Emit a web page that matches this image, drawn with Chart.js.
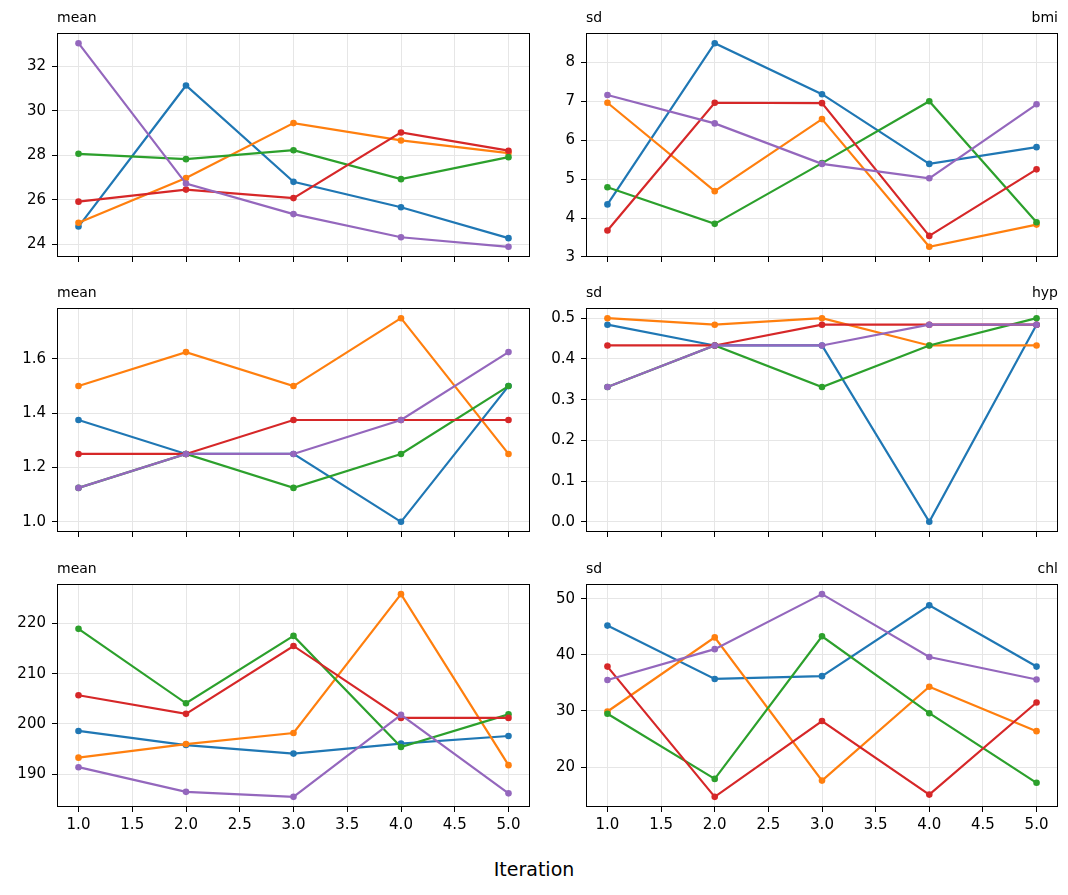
<!DOCTYPE html>
<html>
<head>
<meta charset="utf-8">
<script src="https://cdn.jsdelivr.net/npm/chart.js@4.4.1/dist/chart.umd.min.js"></script>
<style>
body { margin: 0; background: #fff; width: 1068px; height: 895px; position: relative; overflow: hidden; font-family: "DejaVu Sans", sans-serif; }
.panel { position: absolute; }
#xlabel { position: absolute; left: 0; width: 1068px; top: 858px; text-align: center; font-size: 19px; color: #000; }
</style>
</head>
<body>
<div id="xlabel">Iteration</div>

<script>
// x axis: iteration number
var iterations = [1, 2, 3, 4, 5];
var xTicks = [1, 1.5, 2, 2.5, 3, 3.5, 4, 4.5, 5];
var colors = ["#1f77b4", "#ff7f0e", "#2ca02c", "#d62728", "#9467bd"];

// one list per chain (blue, orange, green, red, purple)
var bmiMean = [
  [24.79, 31.13, 26.80, 25.66, 24.27],
  [24.96, 26.97, 29.44, 28.66, 28.09],
  [28.06, 27.82, 28.22, 26.92, 27.91],
  [25.91, 26.45, 26.07, 29.02, 28.20],
  [33.03, 26.72, 25.35, 24.31, 23.88]
];
var bmiSd = [
  [4.35, 8.49, 7.18, 5.39, 5.82],
  [6.96, 4.69, 6.54, 3.26, 3.83],
  [4.79, 3.85, 5.41, 7.00, 3.89],
  [3.68, 6.96, 6.95, 3.54, 5.25],
  [7.16, 6.43, 5.39, 5.02, 6.92]
];
var hypMean = [
  [1.375, 1.25, 1.25, 1.0, 1.5],
  [1.5, 1.625, 1.5, 1.75, 1.25],
  [1.125, 1.25, 1.125, 1.25, 1.5],
  [1.25, 1.25, 1.375, 1.375, 1.375],
  [1.125, 1.25, 1.25, 1.375, 1.625]
];
var hypSd = [
  [0.484, 0.433, 0.433, 0.0, 0.484],
  [0.5, 0.484, 0.5, 0.433, 0.433],
  [0.331, 0.433, 0.331, 0.433, 0.5],
  [0.433, 0.433, 0.484, 0.484, 0.484],
  [0.331, 0.433, 0.433, 0.484, 0.484]
];
var chlMean = [
  [198.6, 195.8, 194.1, 196.1, 197.6],
  [193.3, 196.0, 198.2, 225.8, 191.8],
  [218.9, 204.1, 217.5, 195.4, 201.9],
  [205.7, 202.0, 215.5, 201.2, 201.2],
  [191.4, 186.5, 185.5, 201.8, 186.2]
];
var chlSd = [
  [45.2, 35.7, 36.2, 48.8, 37.9],
  [29.9, 43.1, 17.6, 34.3, 26.4],
  [29.5, 17.9, 43.3, 29.6, 17.2],
  [37.9, 14.7, 28.2, 15.1, 31.5],
  [35.5, 41.0, 50.8, 39.6, 35.6]
];

// y tick labels per panel
var bmiMeanTicks = [24, 26, 28, 30, 32];
var bmiSdTicks = [3, 4, 5, 6, 7, 8];
var hypMeanTicks = [1.0, 1.2, 1.4, 1.6];
var hypSdTicks = [0.0, 0.1, 0.2, 0.3, 0.4, 0.5];
var chlMeanTicks = [190, 200, 210, 220];
var chlSdTicks = [20, 30, 40, 50];

var panels = [
  { stat: "mean", name: "",    data: bmiMean, ticks: bmiMeanTicks, dec: 0, col: 0, row: 0 },
  { stat: "sd",   name: "bmi", data: bmiSd,   ticks: bmiSdTicks,   dec: 0, col: 1, row: 0 },
  { stat: "mean", name: "",    data: hypMean, ticks: hypMeanTicks, dec: 1, col: 0, row: 1 },
  { stat: "sd",   name: "hyp", data: hypSd,   ticks: hypSdTicks,   dec: 1, col: 1, row: 1 },
  { stat: "mean", name: "",    data: chlMean, ticks: chlMeanTicks, dec: 0, col: 0, row: 2 },
  { stat: "sd",   name: "chl", data: chlSd,   ticks: chlSdTicks,   dec: 0, col: 1, row: 2 }
];

// layout of the grid
var colLeft = [0, 545], colWidth = [545, 523], yAxisW = [57, 41], padRight = [15, 10];
var boxTop = [33, 308, 584], boxH = [224, 224, 223], xAxisH = [20, 20, 45];
var FONT = "DejaVu Sans";

var frame = {
  id: "frame",
  afterDatasetsDraw: function(chart) {
    var a = chart.chartArea, ctx = chart.ctx;
    ctx.save();
    ctx.strokeStyle = "#000";
    ctx.lineWidth = 1;
    ctx.strokeRect(Math.round(a.left) + 0.5, Math.round(a.top) + 0.5,
                   Math.round(a.right - a.left) - 1, Math.round(a.bottom - a.top) - 1);
    ctx.restore();
  },
  afterDraw: function(chart, args, opts) {
    var a = chart.chartArea, ctx = chart.ctx;
    ctx.save();
    ctx.fillStyle = "#000";
    ctx.font = "14px '" + FONT + "'";
    ctx.textBaseline = "alphabetic";
    ctx.textAlign = "left";
    ctx.fillText(opts.stat, a.left, a.top - 11);
    if (opts.name) {
      ctx.textAlign = "right";
      ctx.fillText(opts.name, a.right, a.top - 11);
    }
    ctx.restore();
  }
};

panels.forEach(function(p, idx) {
  var c = p.col, r = p.row;
  var h = boxTop[0] + boxH[r] + xAxisH[r];
  var div = document.createElement("div");
  div.className = "panel";
  div.style.left = colLeft[c] + "px";
  div.style.top = (boxTop[r] - 33) + "px";
  div.style.width = colWidth[c] + "px";
  div.style.height = h + "px";
  var cv = document.createElement("canvas");
  cv.width = colWidth[c];
  cv.height = h;
  div.appendChild(cv);
  document.body.appendChild(div);

  var lo = Infinity, hi = -Infinity;
  p.data.forEach(function(s) { s.forEach(function(v) { lo = Math.min(lo, v); hi = Math.max(hi, v); }); });
  var m = (hi - lo) * 0.05;

  var datasets = p.data.map(function(s, i) {
    return {
      data: s.map(function(v, k) { return { x: iterations[k], y: v }; }),
      borderColor: colors[i],
      backgroundColor: colors[i],
      borderWidth: 2.2,
      pointRadius: 3.3,
      pointBorderWidth: 0,
      tension: 0,
      order: 5 - i
    };
  });

  var last = r === 2;
  new Chart(cv, {
    type: "line",
    data: { datasets: datasets },
    options: {
      responsive: false,
      animation: false,
      layout: { padding: { top: 33, right: padRight[c], left: 0, bottom: 0 } },
      plugins: { legend: { display: false }, tooltip: { enabled: false }, frame: { stat: p.stat, name: p.name } },
      scales: {
        x: {
          type: "linear",
          min: 0.8, max: 5.2,
          afterBuildTicks: function(s) { s.ticks = xTicks.map(function(v) { return { value: v }; }); },
          afterFit: function(s) { s.height = xAxisH[r]; },
          grid: { color: "#e6e6e6", lineWidth: 1, tickColor: "#000", tickLength: 5 },
          border: { display: false },
          ticks: {
            color: "#000", padding: 4, maxRotation: 0, autoSkip: false,
            font: { family: FONT, size: 15 },
            callback: function(v) { return last ? Number(v).toFixed(1) : ""; }
          }
        },
        y: {
          type: "linear",
          min: lo - m, max: hi + m,
          afterBuildTicks: function(s) { s.ticks = p.ticks.map(function(v) { return { value: v }; }); },
          afterFit: function(s) { s.width = yAxisW[c]; },
          grid: { color: "#e6e6e6", lineWidth: 1, tickColor: "#000", tickLength: 5 },
          border: { display: false },
          ticks: {
            color: "#000", padding: 6, autoSkip: false,
            font: { family: FONT, size: 15 },
            callback: function(v) { return Number(v).toFixed(p.dec); }
          }
        }
      }
    },
    plugins: [frame]
  });
});
</script>
</body>
</html>
